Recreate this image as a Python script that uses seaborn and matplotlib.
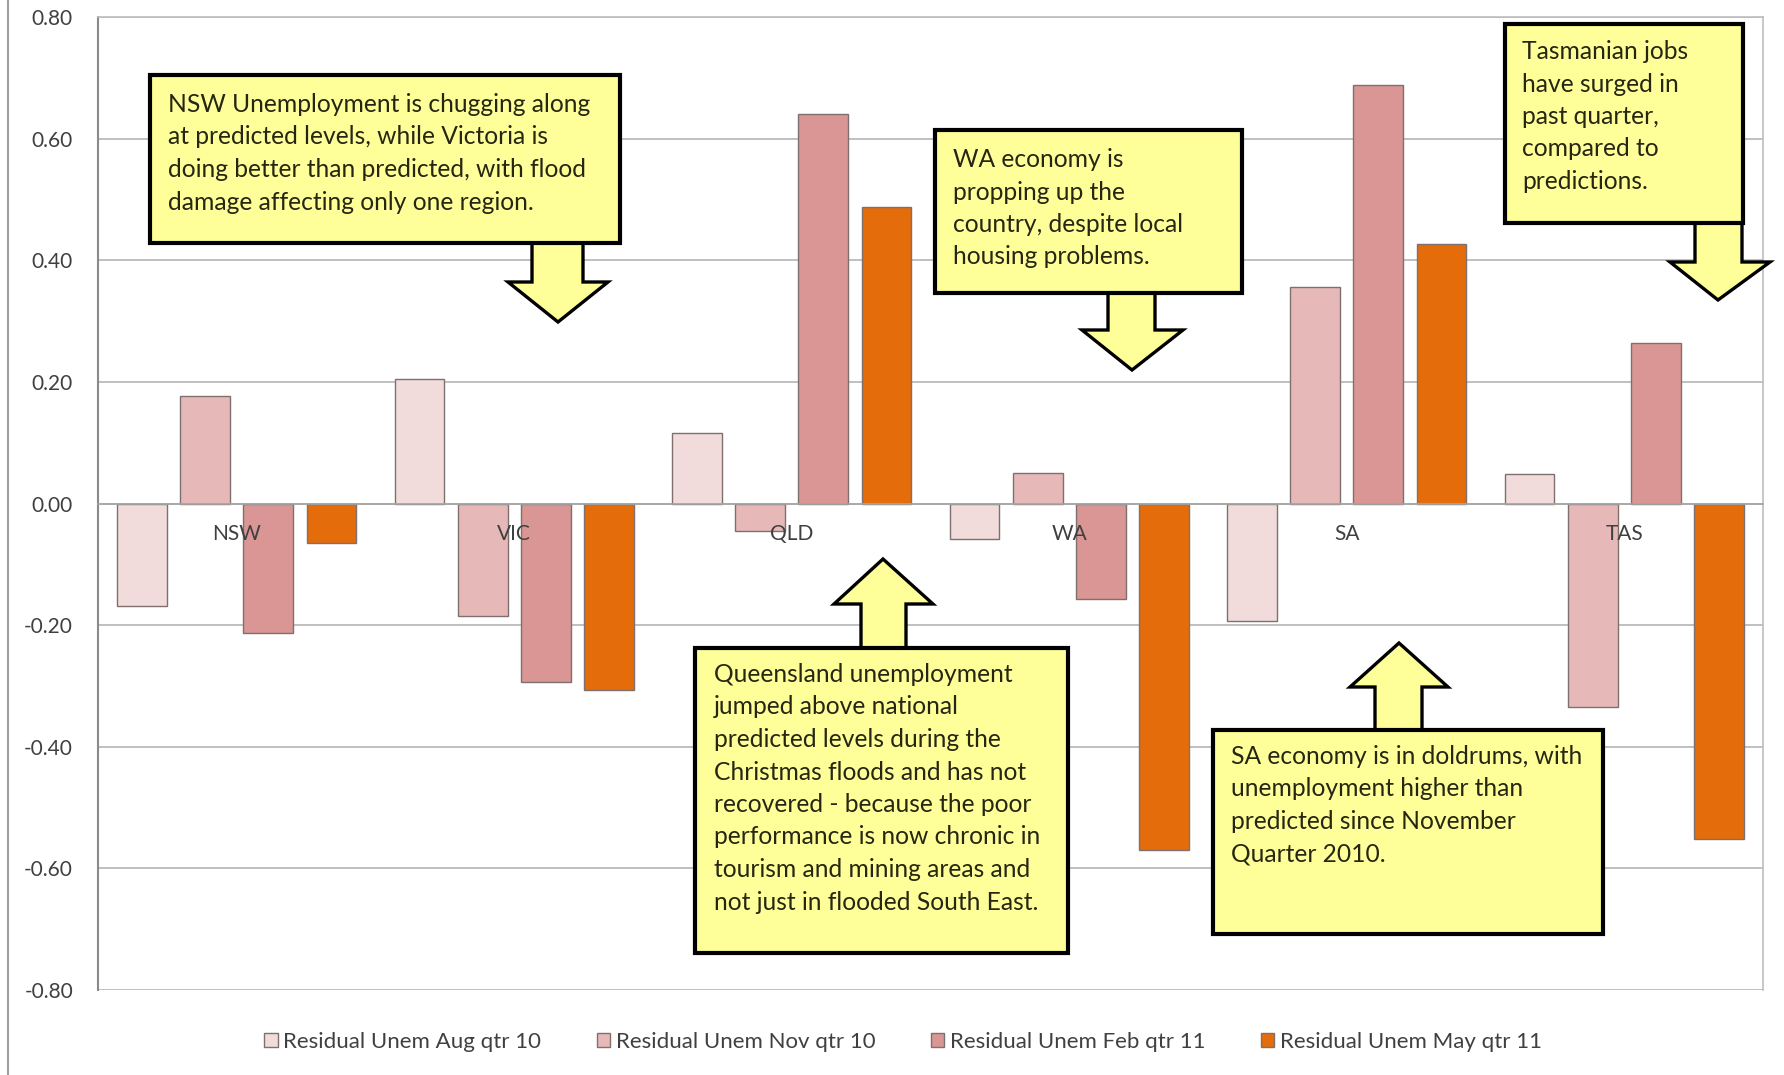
import numpy as np
import pandas as pd
import matplotlib
matplotlib.use("Agg")
import matplotlib.pyplot as plt
import seaborn as sns
from matplotlib.patches import Polygon, Rectangle
from matplotlib.lines import Line2D

# ---------------- data ----------------
states = ["NSW", "VIC", "QLD", "WA", "SA", "TAS"]
series = ["Residual Unem Aug qtr 10", "Residual Unem Nov qtr 10",
          "Residual Unem Feb qtr 11", "Residual Unem May qtr 11"]
aug_10 = [-0.168, 0.204, 0.116, -0.058, -0.193, 0.049]
nov_10 = [0.176, -0.185, -0.045, 0.050, 0.356, -0.335]
feb_11 = [-0.213, -0.294, 0.640, -0.157, 0.689, 0.264]
may_11 = [-0.065, -0.307, 0.488, -0.569, 0.427, -0.552]
ytick_values = [0.80, 0.60, 0.40, 0.20, 0.00, -0.20, -0.40, -0.60, -0.80]
ytick_labels = ["0.80", "0.60", "0.40", "0.20", "0.00", "-0.20", "-0.40", "-0.60", "-0.80"]

notes = {
    "nsw": "NSW Unemployment is chugging along\nat predicted levels, while Victoria is\n"
           "doing better than predicted, with flood\ndamage affecting only one region.",
    "wa": "WA economy is\npropping up the\ncountry, despite local\nhousing problems.",
    "tas": "Tasmanian jobs\nhave surged in\npast quarter,\ncompared to\npredictions.",
    "qld": "Queensland unemployment\njumped above national\npredicted levels during the\n"
           "Christmas floods and has not\nrecovered - because the poor\n"
           "performance is now chronic in\ntourism and mining areas and\nnot just in flooded South East.",
    "sa": "SA economy is in doldrums, with\nunemployment higher than\npredicted since November\nQuarter 2010.",
}

colors = ["#f2dcdb", "#e6b9b8", "#d99694", "#e46c0a"]

df = pd.DataFrame({
    "State": states * 4,
    "Series": np.repeat(series, len(states)),
    "Value": aug_10 + nov_10 + feb_11 + may_11,
})

# ---------------- figure ----------------
sns.set_theme(style="white")
plt.rcParams["font.family"] = ["Lato", "DejaVu Sans"]

W, H = 1784, 1075
fig = plt.figure(figsize=(W / 100, H / 100), dpi=100)
fig.patch.set_facecolor("white")

def fx(x):
    return x / W

def fy(y):
    return 1 - y / H

ax = fig.add_axes([fx(98), fy(990), (1763 - 98) / W, (990 - 17) / H])

sns.barplot(data=df, x="State", y="Value", hue="Series", order=states,
            hue_order=series, palette=colors, saturation=1, width=0.91, gap=0.21,
            edgecolor="#7f7070", linewidth=1.0, errorbar=None, ax=ax)

ax.set_xlim(-0.5, 5.5)
ax.set_ylim(-0.8, 0.8)
ax.set_yticks(ytick_values)
ax.set_yticklabels(ytick_labels)
ax.set_xlabel("")
ax.set_ylabel("")
ax.yaxis.grid(True, color="#b5b5b5", lw=1.2)
ax.xaxis.grid(False)
ax.set_axisbelow(True)
ax.xaxis.set_zorder(3)

ax.spines["bottom"].set_position(("data", 0))
ax.spines["bottom"].set_color("#a6a6a6")
ax.spines["bottom"].set_linewidth(1.2)
ax.spines["left"].set_color("#8a8a8a")
ax.spines["left"].set_linewidth(1.5)
for s in ["top", "right"]:
    ax.spines[s].set_color("#bdbdbd")
    ax.spines[s].set_linewidth(1.2)

ax.tick_params(axis="y", length=0, pad=18, labelsize=15, labelcolor="#404040")
ax.set_xticks(range(len(states)))
ax.set_xticklabels(states)
ax.tick_params(axis="x", which="major", length=0, pad=15, labelsize=15, labelcolor="#404040")
ax.set_xticks(np.arange(-0.5, len(states), 1), minor=True)
ax.tick_params(axis="x", which="minor", direction="in", length=5, color="#a6a6a6", width=1)

sns.move_legend(ax, "center", bbox_to_anchor=(fx(903), fy(1042)),
                bbox_transform=fig.transFigure, ncol=4, frameon=False, title=None,
                fontsize=16, handlelength=0.6, handleheight=0.6, handletextpad=0.25,
                columnspacing=2.5, labelcolor="#404040")

# page border line at far left
fig.add_artist(Line2D([fx(8), fx(8)], [0, 1], transform=fig.transFigure,
                      color="#a0a0a0", lw=1.5))

# ---------------- annotations ----------------
YEL = "#ffff99"
TXT = "#262612"

def box(x0, y0, x1, y1):
    fig.add_artist(Rectangle((fx(x0), fy(y1)), (x1 - x0) / W, (y1 - y0) / H,
                             transform=fig.transFigure, facecolor=YEL,
                             edgecolor="black", lw=3, zorder=6))

def arrow_down(s1, s2, top, hb, h1, h2, tipx, tipy):
    pts = [(s1, top), (s2, top), (s2, hb), (h2, hb), (tipx, tipy), (h1, hb), (s1, hb)]
    fig.add_artist(Polygon([(fx(a), fy(b)) for a, b in pts], closed=True,
                           transform=fig.transFigure, facecolor=YEL,
                           edgecolor="black", lw=2.4, joinstyle="miter", zorder=5))

def note(x, y, s):
    fig.text(fx(x), fy(y), s, ha="left", va="top", fontsize=17.7,
             linespacing=1.50, color=TXT, zorder=7)

# NSW
arrow_down(532, 583, 235, 282, 508, 608, 558, 322)
box(150, 75, 620, 243)
note(168, 93, notes["nsw"])
# WA
arrow_down(1108, 1155, 285, 330, 1082, 1183, 1132, 370)
box(935, 130, 1242, 293)
note(953, 148, notes["wa"])
# TAS
arrow_down(1695, 1742, 215, 262, 1670, 1770, 1718, 300)
box(1505, 24, 1743, 223)
note(1522, 40, notes["tas"])
# QLD (up arrow)
arrow_down(861, 906, 656, 604, 834, 933, 883, 559)
box(695, 648, 1068, 953)
note(714, 663, notes["qld"])
# SA (up arrow)
arrow_down(1375, 1422, 738, 687, 1350, 1448, 1399, 643)
box(1213, 730, 1603, 934)
note(1231, 745, notes["sa"])

fig.savefig("out.png", dpi=100, facecolor="white")
